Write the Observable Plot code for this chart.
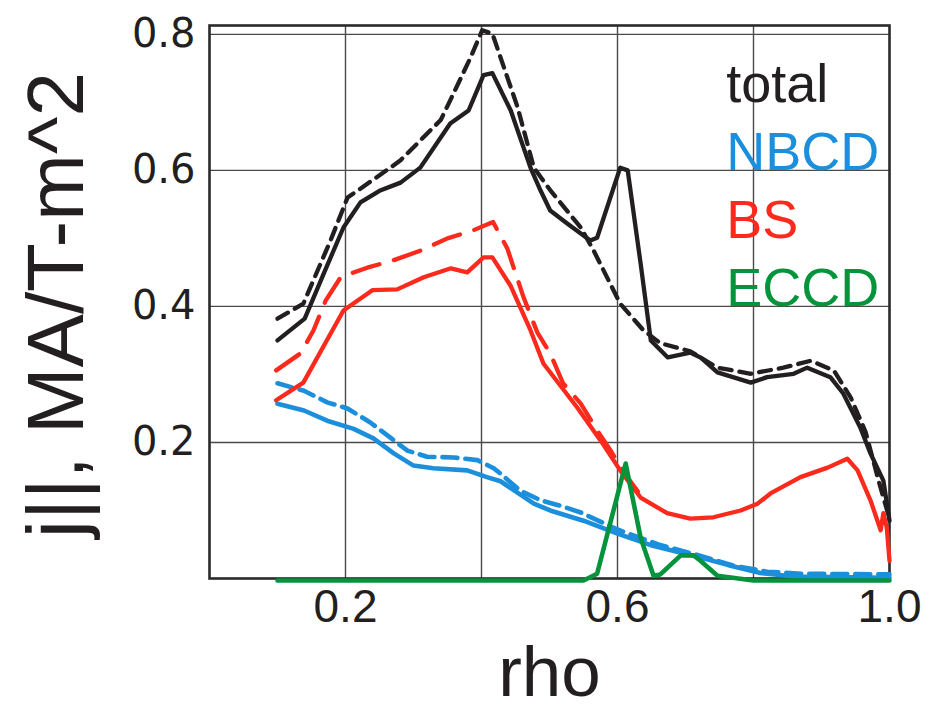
<!DOCTYPE html>
<html>
<head>
<meta charset="utf-8">
<script src="https://cdn.jsdelivr.net/npm/d3@7"></script>
<script src="https://cdn.jsdelivr.net/npm/@observablehq/plot@0.6"></script>
<style>
  html, body { margin: 0; padding: 0; background: #fff; }
  #chart svg { display: block; }
</style>
</head>
<body>
<div id="chart"></div>
<script>
// ---- Data ----
const totalRho = [0.1, 0.14, 0.17, 0.197, 0.222, 0.25, 0.281, 0.31, 0.354, 0.381, 0.403, 0.416, 0.443, 0.472, 0.487, 0.501, 0.526, 0.56, 0.57, 0.604, 0.615, 0.634, 0.649, 0.674, 0.707, 0.722, 0.747, 0.796, 0.82, 0.859, 0.879, 0.913, 0.932, 0.957, 0.972, 0.991, 1.0];
const totalJ   = [0.35, 0.382, 0.453, 0.516, 0.553, 0.57, 0.582, 0.604, 0.669, 0.688, 0.74, 0.743, 0.688, 0.604, 0.57, 0.541, 0.522, 0.497, 0.501, 0.604, 0.6, 0.463, 0.35, 0.325, 0.332, 0.325, 0.303, 0.288, 0.296, 0.301, 0.31, 0.296, 0.272, 0.222, 0.184, 0.144, 0.085];

const totalDashRho = [0.1, 0.138, 0.178, 0.203, 0.266, 0.281, 0.315, 0.34, 0.354, 0.384, 0.401, 0.416, 0.428, 0.453, 0.477, 0.501, 0.546, 0.565, 0.604, 0.638, 0.663, 0.707, 0.747, 0.796, 0.844, 0.884, 0.918, 0.943, 0.965, 0.985, 1.0];
const totalDashJ   = [0.382, 0.404, 0.497, 0.56, 0.604, 0.615, 0.649, 0.674, 0.703, 0.766, 0.806, 0.801, 0.766, 0.693, 0.604, 0.571, 0.516, 0.482, 0.404, 0.365, 0.346, 0.334, 0.31, 0.301, 0.31, 0.32, 0.306, 0.266, 0.215, 0.14, 0.088];

const bsRho = [0.098, 0.138, 0.197, 0.24, 0.276, 0.315, 0.355, 0.379, 0.403, 0.416, 0.443, 0.472, 0.491, 0.541, 0.575, 0.604, 0.634, 0.673, 0.707, 0.741, 0.781, 0.806, 0.825, 0.869, 0.909, 0.938, 0.953, 0.972, 0.987, 0.991, 0.996, 1.0];
const bsJ   = [0.262, 0.288, 0.394, 0.424, 0.425, 0.443, 0.456, 0.45, 0.472, 0.472, 0.43, 0.365, 0.316, 0.251, 0.203, 0.159, 0.119, 0.096, 0.088, 0.09, 0.1, 0.11, 0.125, 0.149, 0.163, 0.176, 0.159, 0.115, 0.071, 0.096, 0.075, 0.026];

const bsDashRho = [0.098, 0.134, 0.153, 0.171, 0.193, 0.232, 0.271, 0.31, 0.35, 0.388, 0.417, 0.438, 0.462, 0.482, 0.501, 0.52, 0.546, 0.57, 0.59, 0.61, 0.63];
const bsDashJ   = [0.306, 0.331, 0.365, 0.409, 0.443, 0.457, 0.468, 0.482, 0.5, 0.512, 0.524, 0.485, 0.413, 0.362, 0.331, 0.287, 0.257, 0.218, 0.188, 0.155, 0.128];

const nbcdRho = [0.1, 0.139, 0.173, 0.212, 0.241, 0.271, 0.3, 0.329, 0.379, 0.408, 0.428, 0.477, 0.501, 0.55, 0.6, 0.649, 0.722, 0.762, 0.81, 0.86, 1.0];
const nbcdJ   = [0.257, 0.247, 0.232, 0.22, 0.206, 0.184, 0.166, 0.162, 0.159, 0.149, 0.143, 0.11, 0.1, 0.085, 0.066, 0.049, 0.031, 0.02, 0.008, 0.003, 0.001];

const nbcdDashRho = [0.1, 0.139, 0.173, 0.203, 0.237, 0.266, 0.291, 0.32, 0.359, 0.394, 0.418, 0.428, 0.457, 0.487, 0.516, 0.546, 0.6, 0.66, 0.72, 0.77, 0.82, 0.87, 1.0];
const nbcdDashJ   = [0.287, 0.276, 0.259, 0.25, 0.229, 0.207, 0.188, 0.179, 0.178, 0.174, 0.162, 0.154, 0.129, 0.115, 0.107, 0.097, 0.072, 0.05, 0.034, 0.019, 0.01, 0.007, 0.006];

const eccdRho = [0.1, 0.55, 0.57, 0.612, 0.634, 0.653, 0.663, 0.693, 0.712, 0.722, 0.747, 0.8, 1.0];
const eccdJ   = [-0.003, -0.003, 0.007, 0.169, 0.06, 0.004, 0.006, 0.034, 0.034, 0.026, 0.004, -0.003, -0.003];

const xTicks = [0.2, 0.6, 1.0];
const yTicks = [0.2, 0.4, 0.6, 0.8];
const gridX  = [0.2, 0.4, 0.6, 0.8];
const gridY  = [0.2, 0.4, 0.6, 0.8];

const legendLabels = ["total", "NBCD", "BS", "ECCD"];
const legendColors = ["#231f20", "#1b8fdc", "#fb2a1c", "#05933b"];

const xLabel = "rho";
const yLabel = "j||, MA/T-m^2";

// ---- build tables ----
const toRows = (xs, ys) => xs.map((x, i) => ({rho: x, j: ys[i]}));
const total = toRows(totalRho, totalJ);
const totalDash = toRows(totalDashRho, totalDashJ);
const bs = toRows(bsRho, bsJ);
const bsDash = toRows(bsDashRho, bsDashJ);
const nbcd = toRows(nbcdRho, nbcdJ);
const nbcdDash = toRows(nbcdDashRho, nbcdDashJ);
const eccd = toRows(eccdRho, eccdJ);

const [cTotal, cNbcd, cBs, cEccd] = legendColors;
const fmt = d => d.toFixed(1);

const chart = Plot.plot({
  width: 931,
  height: 711,
  marginLeft: 209,
  marginRight: 42,
  marginTop: 25,
  marginBottom: 133,
  x: {domain: [0, 1]},
  y: {domain: [0, 0.813]},
  style: {fontFamily: "'Liberation Sans', Arial, sans-serif", background: "#fff"},
  marks: [
    Plot.gridX(gridX, {stroke: "#4a4a4a", strokeOpacity: 1, strokeWidth: 1.4}),
    Plot.gridY(gridY, {stroke: "#4a4a4a", strokeOpacity: 1, strokeWidth: 1.4}),
    Plot.frame({stroke: "#2a2a2a", strokeWidth: 2.6}),
    Plot.axisY(yTicks, {tickSize: 0, tickPadding: 14, fontSize: 40, fontFamily: "'DejaVu Sans', sans-serif", fill: "#231f20", tickFormat: fmt, label: null}),
    Plot.axisX(xTicks, {tickSize: 0, tickPadding: 11, fontSize: 46, fill: "#231f20", tickFormat: fmt, label: null}),
    Plot.line(nbcdDash, {x: "rho", y: "j", stroke: cNbcd, strokeWidth: 4.6, strokeDasharray: "15,8"}),
    Plot.line(nbcd, {x: "rho", y: "j", stroke: cNbcd, strokeWidth: 4.6}),
    Plot.line(bsDash, {x: "rho", y: "j", stroke: cBs, strokeWidth: 4.3, strokeDasharray: "28,15"}),
    Plot.line(bs, {x: "rho", y: "j", stroke: cBs, strokeWidth: 4.3}),
    Plot.line(totalDash, {x: "rho", y: "j", stroke: cTotal, strokeWidth: 4.3, strokeDasharray: "12,8"}),
    Plot.line(total, {x: "rho", y: "j", stroke: cTotal, strokeWidth: 4.3}),
    Plot.line(eccd, {x: "rho", y: "j", stroke: cEccd, strokeWidth: 4.6}),
    Plot.text(legendLabels, {
      x: () => 0.76, y: (d, i) => 0.7 - 0.1 * i,
      text: d => d, fill: (d, i) => legendColors[i],
      textAnchor: "start", lineAnchor: "bottom", fontSize: 54
    }),
    Plot.text([yLabel], {
      frameAnchor: "left", dx: -127, dy: 3, rotate: -90,
      text: d => d, fill: "#231f20", fontSize: 80,
      textAnchor: "middle", lineAnchor: "bottom"
    }),
    Plot.text([xLabel], {
      frameAnchor: "bottom", dy: 117.5,
      text: d => d, fill: "#231f20", fontSize: 71,
      textAnchor: "middle", lineAnchor: "bottom"
    })
  ]
});
document.getElementById("chart").appendChild(chart);
</script>
</body>
</html>
